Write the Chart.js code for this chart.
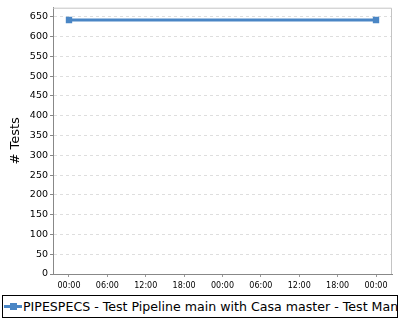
<!DOCTYPE html>
<html>
<head>
<meta charset="utf-8">
<script src="https://cdn.jsdelivr.net/npm/chart.js@4/dist/chart.umd.min.js"></script>
<style>
  body { margin: 0; background: #fff; width: 400px; height: 320px; overflow: hidden; }
  #wrap { position: absolute; left: 0; top: 0; width: 400px; height: 292px; }
  #legenda {
    position: absolute; left: 2px; top: 295px; width: 396px; height: 23px;
    border: 1px solid #000; box-sizing: border-box; overflow: hidden; white-space: nowrap;
    font-family: "DejaVu Sans", sans-serif; font-size: 12.6px; line-height: 21px; color: #000;
  }
  #legenda .marca { display: inline-block; position: relative; width: 19px; height: 21px; vertical-align: top; margin-left: 1px; }
  #legenda .marca::before { content: ""; position: absolute; left: 0; top: 9px; width: 18px; height: 3px; background: #4a86c5; }
  #legenda .marca::after { content: ""; position: absolute; left: 6px; top: 7px; width: 7px; height: 7px; background: #4a86c5; }
</style>
</head>
<body>
<div id="wrap"><canvas id="grafico" width="400" height="292"></canvas></div>
<div id="legenda"><span class="marca"></span>PIPESPECS - Test Pipeline main with Casa master - Test Many</div>
<script>
// dados
const horas = [0, 48];           // primeiro e último ponto (horas)
const testes = [642, 642];       // # Tests
const rotulosX = ["00:00", "06:00", "12:00", "18:00", "00:00", "06:00", "12:00", "18:00", "00:00"];
const ticksX = [0, 6, 12, 18, 24, 30, 36, 42, 48];
const ticksY = [0, 50, 100, 150, 200, 250, 300, 350, 400, 450, 500, 550, 600, 650];
const nomeSerie = "PIPESPECS - Test Pipeline main with Casa master - Test Many";

const azul = "#4a86c5";
const fonte = "'DejaVu Sans', sans-serif";

// contorno cinza do plot
const contorno = {
  id: "contorno",
  beforeDatasetsDraw(chart) {
    const { ctx, chartArea: a } = chart;
    ctx.save();
    ctx.strokeStyle = "#c4c4c4";
    ctx.lineWidth = 1;
    ctx.beginPath();
    ctx.moveTo(a.left, a.top + 0.5);
    ctx.lineTo(a.right - 0.5, a.top + 0.5);
    ctx.lineTo(a.right - 0.5, a.bottom);
    ctx.stroke();
    ctx.restore();
  },
};

const ctx = document.getElementById("grafico").getContext("2d");
const grafico = new Chart(ctx, {
  type: "line",
  data: {
    datasets: [
      {
        label: nomeSerie,
        data: horas.map((h, i) => ({ x: h, y: testes[i] })),
        borderColor: azul,
        backgroundColor: azul,
        borderWidth: 3,
        pointStyle: "rect",
        pointRadius: 4.5,
        pointBorderWidth: 0,
        pointBackgroundColor: azul,
        tension: 0,
      },
    ],
  },
  plugins: [contorno],
  options: {
    responsive: false,
    animation: false,
    layout: { padding: { left: 0, right: 8, top: 6, bottom: 0 } },
    plugins: {
      legend: { display: false },
      tooltip: { enabled: false },
    },
    scales: {
      x: {
        type: "linear",
        min: -2.5,
        max: 50.5,
        afterBuildTicks: (ax) => { ax.ticks = ticksX.map((v) => ({ value: v })); },
        grid: { display: true, drawOnChartArea: false, drawTicks: true, tickLength: 3, tickColor: "#999" },
        border: { color: "#888", width: 1 },
        ticks: {
          autoSkip: false,
          maxRotation: 0,
          padding: 4,
          color: "#000",
          font: { family: fonte, size: 8 },
          callback: (v) => rotulosX[ticksX.indexOf(v)],
        },
        afterFit: (ax) => { ax.height = 18; },
      },
      y: {
        min: 0,
        max: 673,
        afterBuildTicks: (ax) => { ax.ticks = ticksY.map((v) => ({ value: v })); },
        grid: {
          color: "#dedede",
          tickColor: "#888",
          tickLength: 3,
          drawTicks: true,
        },
        border: { color: "#888", width: 1, dash: [3, 3] },
        ticks: {
          color: "#000",
          padding: 2,
          font: { family: fonte, size: 9.5 },
        },
        title: {
          display: true,
          text: "# Tests",
          color: "#000",
          padding: { top: 8, bottom: 0 },
          font: { family: fonte, size: 13 },
        },
        afterFit: (ax) => { ax.width = 53; },
      },
    },
  },
});
</script>
</body>
</html>
